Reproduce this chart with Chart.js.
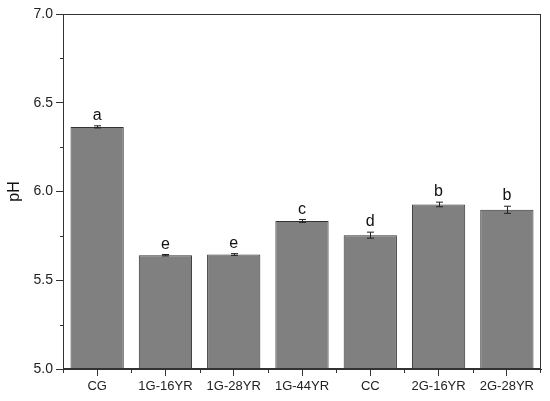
<!DOCTYPE html>
<html lang="en">
<head>
    <meta charset="UTF-8">
    <title>pH</title>
    <script src="https://cdn.jsdelivr.net/npm/chart.js"></script>
    <style>
        body {
            margin: 0;
            padding: 0;
            background-color: white;
        }

        #wrap {
            width: 550px;
            height: 401px;
        }
    </style>
</head>
<body>
    <div id="wrap">
        <canvas id="chart"></canvas>
    </div>

    <script>
        const categories = ['CG', '1G-16YR', '1G-28YR', '1G-44YR', 'CC', '2G-16YR', '2G-28YR'];
        const phValues = [6.364, 5.641, 5.645, 5.834, 5.754, 5.927, 5.897];
        const phErrors = [0.006, 0.004, 0.005, 0.008, 0.017, 0.013, 0.020];
        const letters = ['a', 'e', 'e', 'c', 'd', 'b', 'b'];
        const yTicks = [5.0, 5.5, 6.0, 6.5, 7.0];
        const yMinorTicks = [5.25, 5.75, 6.25, 6.75];

        const inkColor = '#333333';
        const fontFamily = '"Liberation Sans", Arial, sans-serif';

        // frame, minor ticks, error bars and letters
        const extras = {
            id: 'extras',
            afterDatasetsDraw(chart) {
                const ctx = chart.ctx;
                const area = chart.chartArea;
                const x = chart.scales.x;
                const y = chart.scales.y;

                ctx.save();
                ctx.strokeStyle = inkColor;
                ctx.lineWidth = 1;
                ctx.strokeRect(area.left + 0.5, area.top + 0.5, area.right - area.left - 1, area.bottom - area.top - 1);

                // y minor ticks
                yMinorTicks.forEach(v => {
                    const py = Math.round(y.getPixelForValue(v)) + 0.5;
                    ctx.beginPath();
                    ctx.moveTo(area.left - 3, py);
                    ctx.lineTo(area.left, py);
                    ctx.stroke();
                });

                // x minor ticks on category boundaries
                const step = x.getPixelForValue(1) - x.getPixelForValue(0);
                for (let i = 0; i <= categories.length; i++) {
                    let px = Math.round(x.getPixelForValue(i) - step / 2) + 0.5;
                    if (i === 0) px = area.left + 0.5;
                    if (i === categories.length) px = area.right - 0.5;
                    ctx.beginPath();
                    ctx.moveTo(px, area.bottom);
                    ctx.lineTo(px, area.bottom + 4);
                    ctx.stroke();
                }

                // error bars
                ctx.strokeStyle = '#222222';
                phValues.forEach((v, i) => {
                    const px = Math.round(x.getPixelForValue(i)) + 0.5;
                    const top = y.getPixelForValue(v + phErrors[i]);
                    const bot = y.getPixelForValue(v - phErrors[i]);
                    ctx.beginPath();
                    ctx.moveTo(px, top);
                    ctx.lineTo(px, bot);
                    ctx.moveTo(px - 3.5, top);
                    ctx.lineTo(px + 3.5, top);
                    ctx.moveTo(px - 3.5, bot);
                    ctx.lineTo(px + 3.5, bot);
                    ctx.stroke();
                });

                // significance letters
                ctx.fillStyle = '#111111';
                ctx.font = '16px ' + fontFamily;
                ctx.textAlign = 'center';
                ctx.textBaseline = 'alphabetic';
                phValues.forEach((v, i) => {
                    const px = x.getPixelForValue(i);
                    const top = y.getPixelForValue(v + phErrors[i]);
                    ctx.fillText(letters[i], px, top - 6);
                });
                ctx.restore();
            }
        };

        const ctx = document.getElementById('chart').getContext('2d');

        new Chart(ctx, {
            type: 'bar',
            data: {
                labels: categories,
                datasets: [{
                    label: 'pH',
                    data: phValues,
                    backgroundColor: '#808080',
                    borderColor: '#333333',
                    borderWidth: 1,
                    barPercentage: 0.78,
                    categoryPercentage: 1.0
                }]
            },
            options: {
                responsive: true,
                maintainAspectRatio: false,
                animation: false,
                layout: {
                    padding: { top: 14, right: 9, left: 0, bottom: 0 }
                },
                plugins: {
                    legend: { display: false },
                    tooltip: { enabled: false }
                },
                scales: {
                    x: {
                        offset: true,
                        grid: {
                            display: true,
                            drawOnChartArea: false,
                            drawTicks: true,
                            tickLength: 7,
                            color: inkColor,
                            offset: false
                        },
                        border: { display: true, color: inkColor, width: 1 },
                        ticks: {
                            color: '#222222',
                            padding: 3,
                            maxRotation: 0,
                            autoSkip: false,
                            font: { family: fontFamily, size: 13 }
                        },
                        afterFit(scale) {
                            scale.height = 32;
                        }
                    },
                    y: {
                        min: 5.0,
                        max: 7.0,
                        afterBuildTicks(scale) {
                            scale.ticks = yTicks.map(v => ({ value: v }));
                        },
                        grid: {
                            display: true,
                            drawOnChartArea: false,
                            drawTicks: true,
                            tickLength: 7,
                            color: inkColor
                        },
                        border: { display: true, color: inkColor, width: 1 },
                        ticks: {
                            color: '#222222',
                            padding: 3,
                            callback: v => v.toFixed(1),
                            font: { family: fontFamily, size: 14 }
                        },
                        title: {
                            display: true,
                            text: 'pH',
                            color: '#111111',
                            padding: { top: 5, bottom: 0 },
                            font: { family: fontFamily, size: 16 }
                        },
                        afterFit(scale) {
                            scale.width = 63;
                        }
                    }
                }
            },
            plugins: [extras]
        });
    </script>
</body>
</html>
